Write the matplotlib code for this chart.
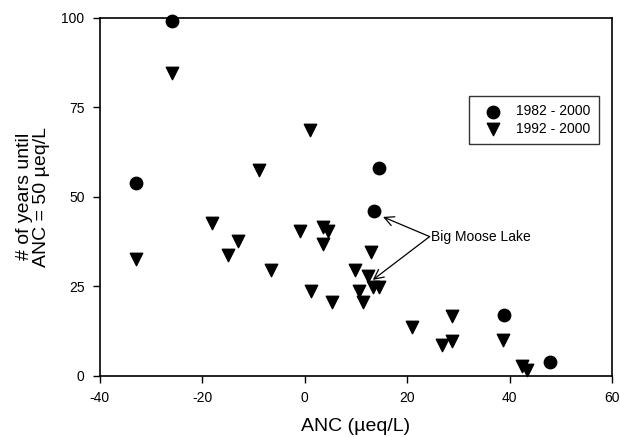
import numpy as np
from matplotlib import pyplot as plt

plt.rcParams['font.family'] = ['Liberation Sans', 'DejaVu Sans']
plt.rcParams['axes.unicode_minus'] = False

# 1982 - 2000
anc_82 = [-33, -26, 14.5, 13.5, 39, 48]
yrs_82 = [54, 99, 58, 46, 17, 4]

# 1992 - 2000
anc_92 = [-26, -9, 1, -33, -18, -13, -15, -6.5, -1, 3.5, 4.5, 3.5, 1.3, 5.3,
          13, 9.8, 12.4, 10.7, 11.4, 13.3, 14.5, 21, 28.7, 26.8, 28.8, 38.8, 42.4, 43.5]
yrs_92 = [84.5, 57.5, 68.6, 32.6, 42.7, 37.7, 33.7, 29.6, 40.5, 41.7, 40.5, 36.7, 23.8, 20.7,
          34.7, 29.6, 27.8, 23.8, 20.7, 24.7, 24.7, 13.7, 16.7, 8.6, 9.7, 10, 2.8, 1.7]

fig = plt.figure(figsize=(6.2, 4.37), dpi=100)
ax = fig.add_axes([0.161, 0.14, 0.826, 0.819])

ax.scatter(anc_82, yrs_82, marker='o', s=80, color='black', label='1982 - 2000', zorder=3, clip_on=False)
ax.scatter(anc_92, yrs_92, marker='v', s=80, color='black', label='1992 - 2000', zorder=3, clip_on=False)

# Big Moose Lake label with two arrows
lbl_x, lbl_y = 24.6, 38.9
ax.text(lbl_x, lbl_y, 'Big Moose Lake', fontsize=10, va='center', ha='left')
for tip in [(15.3, 44.4), (13.3, 26.8)]:
    ax.annotate('', xy=tip, xytext=(lbl_x - 0.2, lbl_y),
                arrowprops=dict(arrowstyle='->', color='black', lw=0.9, shrinkA=0, shrinkB=0,
                                mutation_scale=17))

ax.set_xlim(-40, 60)
ax.set_ylim(0, 100)
ax.set_xticks([-40, -20, 0, 20, 40, 60])
ax.set_yticks([0, 25, 50, 75, 100])
ax.tick_params(direction='out', length=5, width=1, labelsize=10, pad=6, top=False, right=False)
for sp in ax.spines.values():
    sp.set_linewidth(1.2)

ax.set_xlabel('ANC (\u00b5eq/L)', fontsize=14, labelpad=9)
ax.set_ylabel('# of years until\nANC = 50 \u00b5eq/L', fontsize=14, labelpad=8, linespacing=1.0)

leg = ax.legend(loc='upper right', bbox_to_anchor=(0.975, 0.782), borderaxespad=0, fontsize=10,
                frameon=True, fancybox=False, edgecolor='black', borderpad=0.6, handletextpad=0.6,
                labelspacing=0.25, scatterpoints=1, handlelength=2.2)
leg.get_frame().set_linewidth(1)

plt.savefig('out.png', dpi=100)
